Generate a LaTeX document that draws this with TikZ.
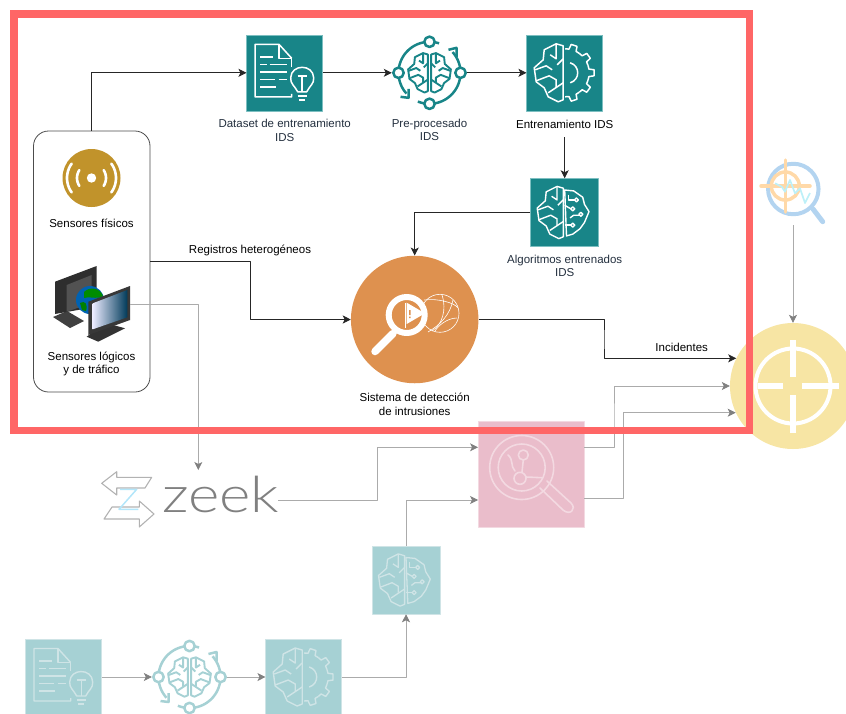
\documentclass[tikz,border=0pt]{standalone}
\usepackage{fontspec}
\setmainfont{Liberation Sans}
\newfontfamily\zeekfont[UprightFont={* Light}]{Lato}
\usetikzlibrary{arrows.meta,calc,positioning}
\definecolor{tealtile}{HTML}{188588}
\definecolor{tealedge}{HTML}{7DBFC1}
\definecolor{tealfade}{HTML}{A6D1D4}
\definecolor{linefade}{HTML}{CFE4E6}
\definecolor{orangeids}{HTML}{DE914F}
\definecolor{goldsens}{HTML}{C1932B}
\definecolor{redframe}{HTML}{FF6666}
\definecolor{yellowtgt}{HTML}{F7E5A4}
\definecolor{pinktile}{HTML}{EABDCB}
\definecolor{pinkline}{HTML}{F3D9E1}
\definecolor{labelink}{HTML}{232F3E}
\definecolor{graypil}{HTML}{ABABAB}
\definecolor{graytip}{HTML}{808080}
\definecolor{lensblue}{HTML}{B3D4F0}
\definecolor{lensorange}{HTML}{FFD9A8}
\definecolor{lenscyan}{HTML}{BDF0F8}
\tikzset{
    tile/.style={
           rectangle,
           minimum size=76,
           inner sep=0pt,
           fill=tealtile,
           draw=tealedge, line width=.5pt},
    fadetile/.style={
           tile,
           fill=tealfade,
           draw=linefade},
    spot/.style={
           circle,
           minimum size=75,
           inner sep=0pt},
    lbl/.style={
           inner sep=0pt,
           align=center,
           font=\fontsize{11.5}{13.6}\selectfont},
    awslbl/.style={
           lbl,
           text=labelink},
    pil/.style={
           -{Stealth[length=8pt,width=8pt,inset=2pt]},
           line width=.8pt,
           draw=black!85},
    pilgray/.style={
           -{Stealth[length=8pt,width=8pt,inset=2pt,color=graytip]},
           line width=.8pt,
           draw=graypil},
    brainhalf/.pic={
        \path[draw,pic actions] (-1,-27) -- (-8,-29) -- (-20,-23) -- (-21,-13) -- (-30,-5) -- (-28,9) -- (-20,15) -- (-16,24) -- (-6,29) -- (-1,27) -- cycle;
        \path[draw,pic actions] (-8,-29) -- (-8,-14) -- (-14,-18);
        \path[draw,pic actions] (-1,-14) -- (-7,-8);
        \path[draw,pic actions] (-29,-3) -- (-18,-7) -- (-12,-3);
        \path[draw,pic actions] (-28,8) -- (-15,3) -- (-8,7) -- (-8,14);
        \path[draw,pic actions] (-16,20) -- (-1,10);
    },
    gearhalf/.pic={
        \foreach \a in {-72,-36,0,36,72}
            \path[draw,pic actions] ({24*cos(\a-18)},{24*sin(\a-18)}) -- ({24*cos(\a-9)},{24*sin(\a-9)}) -- ({29*cos(\a-6)},{29*sin(\a-6)}) -- ({29*cos(\a+6)},{29*sin(\a+6)}) -- ({24*cos(\a+9)},{24*sin(\a+9)}) -- ({24*cos(\a+18)},{24*sin(\a+18)});
        \path[draw,pic actions] (5,-10) .. controls (15,-7) and (15,7) .. (5,10);
    },
    circuithalf/.pic={
        \path[draw,pic actions] (0,-25) -- (10,-24) -- (20,-17) -- (22,-9) -- (27,-1) -- (22,11) -- (17,18) -- (9,24) -- (2,26) -- cycle;
        \path[draw,pic actions] (4,-20) -- (4,-14) -- (11,-14);
        \path[draw,pic actions] (0,-8) -- (7,-4);
        \path[draw,pic actions] (6,6) -- (10,3) -- (17,3);
        \path[draw,pic actions] (0,14) -- (7,14);
        \foreach \p in {(13,-14),(9,-4),(18,2),(9,14)}
            \path[draw,pic actions] \p circle (2.2);
    },
    docbulb/.pic={
        \path[draw,pic actions] (7,-14.5) -- (-5.7,-28.5) -- (-29.7,-28.5) -- (-29.7,24) -- (7,24) -- (7,21);
        \path[draw,pic actions] (-5.7,-28.5) -- (-5.7,-14.5) -- (7,-14.5) -- (7,-6);
        \path[draw,pic actions] (-24.7,-16) -- (-12,-16);
        \path[draw,pic actions] (-24.7,-8.5) -- (-18,-8.5) (-15,-8.5) -- (2,-8.5);
        \path[draw,pic actions] (-24.7,-1) -- (2,-1);
        \path[draw,pic actions] (-24.7,6.5) -- (-9.5,6.5) (-6,6.5) -- (2,6.5);
        \path[draw,pic actions] (-24.7,14) -- (-8.5,14);
        \path[draw,pic actions] (13,19) .. controls (10,13) and (5.5,11) .. (6,5) .. controls (6.5,-9) and (28.5,-9) .. (29,5) .. controls (29.5,11) and (25,13) .. (22,19) -- cycle;
        \path[draw,pic actions] (13,3) -- (22,3) (17.5,3) -- (17.5,19);
        \path[draw,pic actions] (13,23) -- (22,23) (14.5,27) -- (20.5,27);
    },
    prepring/.pic={
        \path[draw,pic actions,line width=2.5pt] plot[domain=-175:-95,samples=24] ({31*cos(\x)},{31*sin(\x)});
        \path[draw,pic actions,line width=2.5pt] plot[domain=-85:-72,samples=5] ({31*cos(\x)},{31*sin(\x)});
        \path[draw,pic actions,line width=2.5pt] plot[domain=-5:-42,samples=12] ({31*cos(\x)},{31*sin(\x)});
        \path[draw,pic actions,line width=2.5pt] plot[domain=5:85,samples=24] ({31*cos(\x)},{31*sin(\x)});
        \path[draw,pic actions,line width=2.5pt] plot[domain=175:138,samples=12] ({31*cos(\x)},{31*sin(\x)});
        \path[draw,pic actions,line width=2.5pt] plot[domain=95:112,samples=5] ({31*cos(\x)},{31*sin(\x)});
        \path[draw,pic actions,line width=2.5pt] (19,-23) -- (27,-25) -- (27,-16);
        \path[draw,pic actions,line width=2.5pt] (-29,24) -- (-21,25) -- (-21,16);
        \foreach \p in {(0,-31),(-31,0),(31,0),(0,31)}
            \path[draw,pic actions,fill=white,line width=2.5pt] \p circle (5.2);
    }
}
\begin{document}
\begin{tikzpicture}[x=1pt,y=-1pt,line join=round]
        \useasboundingbox (0,0) rectangle (846,713);
        \clip (0,0) rectangle (846,713);

        % faded lower part
        \node[circle, fill=yellowtgt, minimum size=126, inner sep=0pt] (target) at (793,386) {};
        \draw[white, line width=4pt] (target) circle (37.5);
        \draw[white, line width=6pt] (793,340) -- (793,376.7) (793,395) -- (793,432.7) (758,386) -- (782.7,386) (801.7,386) -- (838.7,386);

        \node[rectangle, fill=pinktile, draw=pinkline, line width=.5pt, minimum size=106, inner sep=0pt] (hunt) at (531.3,473.8) {};
        \begin{scope}[pinkline, line width=1.6pt, line cap=round]
            \draw (521.7,467.5) circle (32);
            \draw (521.7,467.5) circle (23.5);
            \draw (540,488) -- (563,510) .. controls (570,516) and (577,509) .. (571,503) -- (547,481);
            \draw (523.3,455) circle (5);
            \draw (520,478.3) circle (6);
            \draw (523.3,460) -- (522,472);
            \draw (508,455) .. controls (514,460) and (510,466) .. (515,471);
            \draw (526,477) -- (541.7,477.7);
        \end{scope}

        \node[fadetile, minimum size=68] (fadealgo) at (406,580) {};
        \pic[draw=linefade, line width=1.3pt, scale=.9] at (405.5,580) {brainhalf};
        \pic[draw=linefade, line width=1.3pt, scale=.9] at (406,580) {circuithalf};
        \node[fadetile] (fadedata) at (63.7,677) {};
        \pic[draw=linefade, line width=1.4pt] at (63.7,677) {docbulb};
        \node[spot] (fadeprep) at (189.5,677) {};
        \pic[draw=tealfade] at (189.5,677) {prepring};
        \pic[draw=tealfade, line width=1.9pt, scale=.68] at (188.5,677) {brainhalf};
        \pic[draw=tealfade, line width=1.9pt, xscale=-.68, yscale=.68] at (190.5,677) {brainhalf};
        \node[fadetile] (fadetrain) at (303.7,677) {};
        \pic[draw=linefade, line width=1.4pt] at (303.2,677) {brainhalf};
        \pic[draw=linefade, line width=1.4pt] at (304.2,677) {gearhalf};

        \draw[pilgray] (fadedata) -- (fadeprep);
        \draw[pilgray] (fadeprep) -- (fadetrain);
        \draw[pilgray] (fadetrain) -| (fadealgo);

        % zeek logo
        \node[anchor=west, inner sep=0pt, text=black!50, font=\zeekfont\fontsize{50}{50}\selectfont] (zeek) at (162,494.5) {\scalebox{1.2}[1]{zeek}};
        \draw[black!30, line width=1.1pt] (101.7,483.3) -- (116.7,471.7) -- (116.7,477.3) -- (151.7,477.3) -- (145,488) -- (116.7,488) -- (116.7,495) -- cycle;
        \draw[black!30, line width=1.1pt] (154,514) -- (139.3,501) -- (139.3,507) -- (112,507) -- (104,519) -- (139.3,519) -- (139.3,527) -- cycle;
        \draw[cyan!30!white, line width=1.5pt] (120,489.3) -- (136.7,489.3) -- (119,509.3) -- (138.3,509.3);

        % lens icon
        \node[circle, draw=lensblue, line width=4pt, minimum size=50.5, inner sep=0pt] (lens) at (793.3,189) {};
        \draw[lensblue, line width=5pt, line cap=round] (813,209) -- (822.7,221.7);
        \draw[lensorange, line width=3.5pt] (785.3,186) circle (14);
        \draw[lensorange, line width=3.5pt, line cap=round] (761,186) -- (810,186) (785.3,160) -- (785.3,212);
        \draw[lenscyan, line width=1.7pt] (775,183.3) -- (781.7,186.7) -- (785,191.7) -- (790,180) -- (795,193.3) -- (800,188.3) -- (805,203) -- (810,193);
        \coordinate (lensout) at (793,225);
        \draw[pilgray] (lensout) -- (target);

        \coordinate (zeekout) at (278,500);
        \coordinate (zeekbend) at (377.7,470);
        \draw[pilgray] (zeekout) -| (zeekbend) |- (hunt.west |- 0,447.3);
        \draw[pilgray] (fadealgo) |- (hunt.west |- 0,500);
        \coordinate (huntouta) at (584.3,447.3);
        \coordinate (huntoutb) at (584.3,498.3);
        \coordinate (bendtgta) at (614,420);
        \coordinate (bendtgtb) at (623.7,460);
        \draw[pilgray] (huntouta) -| (bendtgta) |- (target.west);
        \draw[pilgray] (huntoutb) -| (bendtgtb) |- (target.205.4);

        % sensors
        \node[rectangle, rounded corners=15, draw=black!70, line width=.8pt, fill=white, minimum width=116.5, minimum height=261, inner sep=0pt] (sensbox) at (91.75,261.5) {};
        \node[circle, fill=goldsens, minimum size=58, inner sep=0pt] (physical) at (91.5,178) {};
        \fill[white] (physical) circle (4.7);
        \draw[white, line width=2.6pt, line cap=round] plot[domain=-33:33,samples=12] ({91.5+14.5*cos(\x)},{178+14.5*sin(\x)});
        \draw[white, line width=2.6pt, line cap=round] plot[domain=147:213,samples=12] ({91.5+14.5*cos(\x)},{178+14.5*sin(\x)});
        \draw[white, line width=2.6pt, line cap=round] plot[domain=-36:36,samples=12] ({91.5+24.5*cos(\x)},{178+24.5*sin(\x)});
        \draw[white, line width=2.6pt, line cap=round] plot[domain=144:216,samples=12] ({91.5+24.5*cos(\x)},{178+24.5*sin(\x)});
        \node[lbl] (physlbl) at (91.5,223) {Sensores físicos};

        \fill[black!75] (53,317) -- (67,311) -- (84,321) -- (70,328) -- cycle;
        \fill[black!82] (55,281.7) -- (96.7,266) -- (96.7,306.7) -- (55,314) -- cycle;
        \fill[black!68] (66.7,285) -- (91.7,275) -- (91.7,303) -- (66.7,311.7) -- cycle;
        \node[circle, fill=blue!45!cyan!70!black, minimum size=28, inner sep=0pt] (globe) at (90,300) {};
        \fill[green!55!black] (84,292) .. controls (90,286) and (100,288) .. (103,296) .. controls (98,300) and (92,296) .. (84,298) -- cycle;
        \fill[green!50!black] (80,303) .. controls (85,300) and (88,304) .. (86,311) -- (82,310) -- cycle;
        \fill[black!80] (100,327) -- (86.7,336.7) -- (98.3,341.7) -- (125,328.3) -- (113.3,325) -- cycle;
        \fill[black!78] (88.3,301.7) -- (130,286) -- (130,320) -- (88.3,335) -- cycle;
        \shade[left color=blue!8!white, right color=blue!35!cyan!35!black] (92.7,303.3) -- (127.3,290) -- (127.3,317.3) -- (92.7,329.3) -- cycle;
        \coordinate (logicout) at (130,304);
        \coordinate (zeekin) at (198.3,470);
        \node[lbl] (logiclbl) at (91.5,364) {Sensores lógicos\\y de tráfico};
        \draw[pilgray] (logicout) -| (zeekin);

        % training chain
        \node[tile] (dataset) at (284.7,72.8) {};
        \pic[draw=white, line width=1.5pt] at (284.7,72.8) {docbulb};
        \node[awslbl, below=8pt of dataset] (datalbl) {Dataset de entrenamiento\\IDS};
        \node[spot] (prepro) at (429.5,72.8) {};
        \pic[draw=tealtile] at (429.5,72.8) {prepring};
        \pic[draw=tealtile, line width=1.9pt, scale=.68] at (428.5,72.8) {brainhalf};
        \pic[draw=tealtile, line width=1.9pt, xscale=-.68, yscale=.68] at (430.5,72.8) {brainhalf};
        \node[awslbl, below=8pt of prepro] (preplbl) {Pre-procesado\\IDS};
        \node[tile] (training) at (564.7,72.8) {};
        \pic[draw=white, line width=1.5pt] at (564.2,72.8) {brainhalf};
        \pic[draw=white, line width=1.5pt] at (565.2,72.8) {gearhalf};
        \node[lbl, below=8.5pt of training] (trainlbl) {Entrenamiento IDS};
        \coordinate[below=9pt of trainlbl] (trainout);
        \node[tile, minimum size=68] (algo) at (564.7,212.5) {};
        \pic[draw=white, line width=1.4pt, scale=.9] at (564.2,212.5) {brainhalf};
        \pic[draw=white, line width=1.4pt, scale=.9] at (564.7,212.5) {circuithalf};
        \node[awslbl, below=8pt of algo] (algolbl) {Algoritmos entrenados\\IDS};

        % detection system
        \node[circle, fill=orangeids, minimum size=127.5, inner sep=0pt] (ids) at (414.7,319.5) {};
        \draw[white, line width=.6pt] (440,313.3) circle (19);
        \draw[white, line width=.6pt] (424,300) .. controls (438,298) and (455,303) .. (458,308);
        \draw[white, line width=.6pt] (442,295) .. controls (447,310) and (442,325) .. (432,331);
        \draw[white, line width=.6pt] (453,300) .. controls (450,315) and (440,325) .. (428,332);
        \draw[white, line width=.6pt] (457,318) .. controls (447,318) and (438,326) .. (435,331);
        \draw[white, line width=7.5pt, line cap=round] (393,333.5) -- (375,351.5);
        \draw[white, line width=6pt, fill=orangeids] (406.7,315) circle (18);
        \fill[white] (406.7,302.7) -- (425,313.3) -- (406.7,324) -- cycle;
        \draw[white, line width=1.3pt] (405.5,303) -- (405.5,328);
        \fill[orangeids] (409,310) rectangle (410.5,315) (409,316.5) rectangle (410.5,318);
        \node[lbl, below=9.5pt of ids] (idslbl) {Sistema de detección\\de intrusiones};

        % main arrows
        \draw[pil] (sensbox.north) |- (dataset);
        \draw[pil] (dataset) -- (prepro);
        \draw[pil] (prepro) -- (training);
        \draw[pil] (trainout) -- (algo);
        \draw[pil] (algo) -| (ids);
        \coordinate (regbend) at (250.5,290);
        \draw[pil] (sensbox.east) -| (regbend) |- (ids);
        \node[lbl] (reglbl) at (250,250) {Registros heterogéneos};
        \coordinate (incbend) at (604,340);
        \draw[pil] (ids) -| (incbend) |- (target.154.6);
        \node[lbl] (inclbl) at (681.7,347) {Incidentes};

        % region frame
        \draw[redframe, line width=7.5pt, line join=miter] (14,14) rectangle (749.5,430.5);
\end{tikzpicture}
\end{document}
